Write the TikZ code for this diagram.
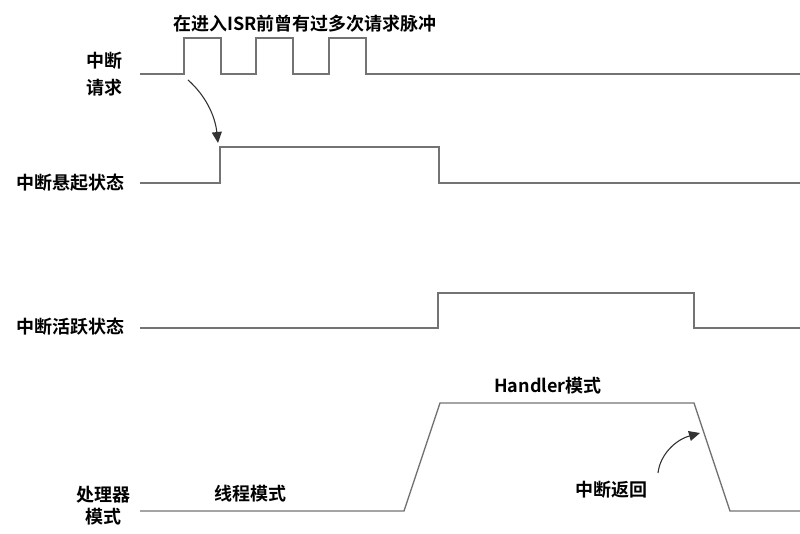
\documentclass[tikz,border=0pt]{standalone}
\usepackage{fontspec}
\setmainfont{Noto Sans CJK SC}[BoldFont = Noto Sans CJK SC Bold]
\usetikzlibrary{arrows.meta}
\tikzset{
	wave/.style  = {draw = black!55, line width = 1.4pt, line join = miter},
	lbl/.style   = {
		font      = \fontsize{18}{27}\selectfont\bfseries,
		inner sep = 0pt,
		align     = center
	},
	note/.style  = {draw = black!80, line width = 1.1pt, -{Triangle[length=11pt,width=10pt]}}
}

\begin{document}
\begin{tikzpicture}[x = 1pt, y = -1pt]
	\useasboundingbox (0,0) rectangle (800,534);
	% interrupt request, several pulses before ISR
	\draw[wave] (140,74) foreach \x in {184,256,329} {
		-- (\x,74) -- (\x,38) -- ++(37,0) -- ++(0,36)
	} -- (800,74);
	% pending state
	\draw[wave] (140,183) -- (220,183) -- (220,147) -- (439,147) -- (439,183) -- (800,183);
	% active state
	\draw[wave] (140,328) -- (438,328) -- (438,293) -- (694,293) -- (694,328) -- (800,328);
	% processor mode
	\draw[wave] (140,511) -- (404,511) -- (440,403) -- (694,403) -- (730,511) -- (800,511);
	% arrow end points
	\coordinate (reqTail) at (188,80);
	\coordinate (pendRise) at (218,143);
	\coordinate (retTail) at (658,473);
	\coordinate (retEdge) at (700,433);
	% labels
	\node[lbl] (reqLbl) at (104,74) {中断\\请求};
	\node[lbl, anchor = east] (pendLbl) at (125,183) {中断悬起状态};
	\node[lbl, anchor = east] (actLbl) at (125,327) {中断活跃状态};
	\node[lbl] (cpuLbl) at (103,506) {处理器\\[-5pt]模式};
	\node[lbl] (pulseTxt) at (305,24) {在进入ISR前曾有过多次请求脉冲};
	\node[lbl] (handlerTxt) at (548,386) {Handler模式};
	\node[lbl] (threadTxt) at (250,494) {线程模式};
	\node[lbl] (retTxt) at (611,490) {中断返回};
	% arrows
	\draw[note] (reqTail) .. controls (205,95) and (215,115) .. (pendRise);
	\draw[note] (retTail) .. controls (660,455) and (675,440) .. (retEdge);
\end{tikzpicture}
\end{document}
